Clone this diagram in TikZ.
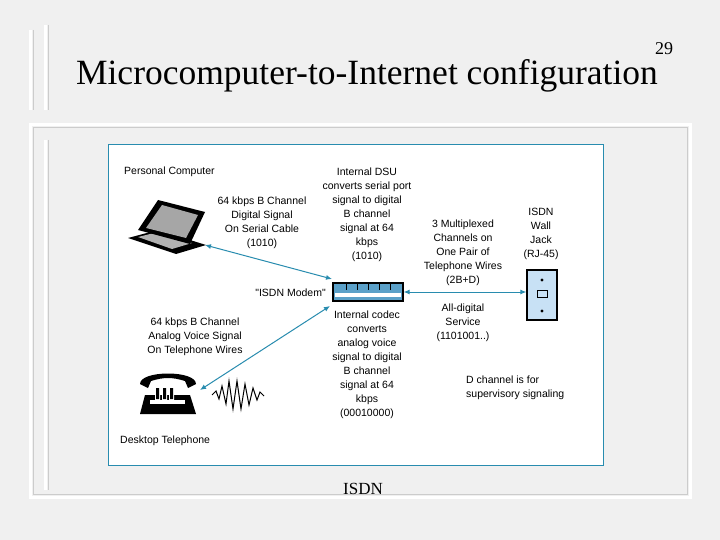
\documentclass[tikz,border=0pt]{standalone}
\usepackage{fontspec}
\usetikzlibrary{arrows.meta}
\setmainfont{Liberation Serif}
\newfontfamily\dsans{Liberation Sans}
\definecolor{teal1}{RGB}{40,140,175}
\definecolor{jackblue}{RGB}{200,225,245}
\definecolor{modemblue}{RGB}{90,160,200}
\begin{document}
\begin{tikzpicture}[x=1pt,y=-1pt,
  lbl/.style={font=\dsans\fontsize{10.5}{14}\selectfont,align=center,inner sep=0pt},
  link/.style={teal1,line width=1pt,{Latex[length=6pt,width=5pt]}-{Latex[length=6pt,width=5pt]}}]
\useasboundingbox (0,0) rectangle (720,540);
\fill[gray!12] (0,0) rectangle (720,540);
% decorative slide bars
\draw[white,line width=3pt] (30,30) -- (30,110) (45,25)--(45,110);
\draw[gray!40,line width=1pt] (33,30) -- (33,110) (48,25)--(48,110);
\draw[white,line width=3pt] (30,125) rectangle (690,497);
\draw[gray!40,line width=1pt] (33,128) rectangle (687,494);
\draw[white,line width=3pt] (45,140)--(45,490);
\draw[gray!40,line width=1pt] (48,140)--(48,490);
\node[font=\fontsize{35.5}{38}\selectfont,anchor=base,inner sep=0pt] (title) at (367,85) {Microcomputer-to-Internet configuration};
\node[font=\fontsize{18}{20}\selectfont,anchor=base,inner sep=0pt] (num) at (664,55) {29};
\node[font=\fontsize{17}{19}\selectfont,anchor=base,inner sep=0pt] (cap) at (363,494) {ISDN};
% panel
\draw[teal1,line width=1pt,fill=white] (108,145) rectangle (603,465);
% labels
\node[lbl,anchor=west] (pc) at (124,172) {Personal Computer};
\node[lbl] (ser) at (262,223) {64 kbps B Channel\\Digital Signal\\On Serial Cable\\(1010)};
\node[lbl] (dsu) at (367,215) {Internal DSU\\converts serial port\\signal to digital\\B channel\\signal at 64\\kbps\\(1010)};
\node[lbl] (mux) at (463,253) {3 Multiplexed\\Channels on\\One Pair of\\Telephone Wires\\(2B+D)};
\node[lbl] (wj) at (541,234) {ISDN\\Wall\\Jack\\(RJ-45)};
\node[lbl,anchor=east] (ml) at (326,293) {"ISDN Modem"};
\node[lbl] (ad) at (463,323) {All-digital\\Service\\(1101001..)};
\node[lbl] (codec) at (367,365) {Internal codec\\converts\\analog voice\\signal to digital\\B channel\\signal at 64\\kbps\\(00010000)};
\node[lbl] (an) at (195,337) {64 kbps B Channel\\Analog Voice Signal\\On Telephone Wires};
\node[lbl,anchor=west,align=left] (dch) at (466,388) {D channel is for\\supervisory signaling};
\node[lbl,anchor=west] (dt) at (120,441) {Desktop Telephone};
% laptop
\coordinate (lap) at (205,245);
\fill[black] (128,238) -- (158,230) -- (206,245) -- (176,254) -- cycle;
\fill[gray!60] (138,237) -- (158,232) -- (192,243) -- (172,249) -- cycle;
\fill[black] (138,230) -- (158,200) -- (205,212) -- (190,244) -- cycle;
\fill[gray!70] (146,228) -- (162,205) -- (198,215) -- (186,238) -- cycle;
% modem
\node[draw=black,line width=1.2pt,fill=modemblue,minimum width=70pt,minimum height=18pt,inner sep=0pt] (modem) at (368,292) {};
\fill[white] (335,293) rectangle (401,297);
\draw[black] (346,283)--(346,290) (357,283)--(357,290) (368,283)--(368,290) (379,283)--(379,290) (390,283)--(390,290);
\coordinate (mtl) at (332,279);
\coordinate (mbl) at (330,306);
% jack
\node[draw=black,line width=1.2pt,fill=jackblue,minimum width=30pt,minimum height=50pt,inner sep=0pt] (jack) at (542,295) {};
\fill (542,280) circle (1.6pt) (542,311) circle (1.6pt);
\draw[black,line width=1pt] (537,290) rectangle (547,297);
% telephone
\coordinate (ph) at (200,390);
\fill[black] (145,395) -- (190,395) -- (196,414) -- (140,414) -- cycle;
\fill[white] (150,400) rectangle (185,404);
\fill[black] (140,384) .. controls (140,370) and (196,370) .. (196,384) -- (188,388) -- (185,381) .. controls (172,377) and (164,377) .. (151,381) -- (148,388) -- cycle;
\fill[white] (155,387) rectangle (160,400) (162,387) rectangle (167,400) (169,387) rectangle (174,400);
\fill[black] (156,388) rectangle (159,399) (163,388) rectangle (166,399) (170,388) rectangle (173,399);
\draw[black,line width=1pt] (212,395) -- (216,391) -- (219,399) -- (222,386) -- (226,404) -- (229,381) -- (233,409) -- (237,381) -- (241,409) -- (245,384) -- (249,405) -- (253,388) -- (257,400) -- (260,392) -- (264,396);
% connectors
\draw[link] (lap) -- (mtl);
\draw[link] (modem.east) -- (modem.east -| jack.west);
\draw[link] (mbl) -- (ph);
\end{tikzpicture}
\end{document}
